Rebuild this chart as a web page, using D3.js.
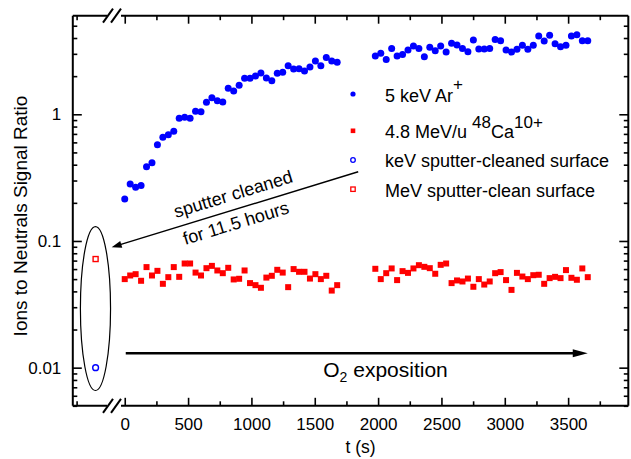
<!DOCTYPE html>
<html>
<head>
<meta charset="utf-8">
<script src="https://cdn.jsdelivr.net/npm/d3@7"></script>
<style>
  html, body { margin: 0; padding: 0; background: #fff; }
  svg { display: block; }
  text { font-family: "Liberation Sans", Arial, sans-serif; fill: #000; }
</style>
</head>
<body>
<svg id="chart" width="631" height="459"></svg>
<script>
// Measurement times (s) shared by both beams
const times = [
  0, 43, 86, 129, 172, 215, 258, 301, 344, 387, 430, 473, 516, 559, 602, 645, 688, 731, 774, 817,
  860, 903, 946, 989, 1032, 1075, 1118, 1161, 1204, 1247, 1290, 1333, 1376, 1419, 1462, 1505, 1548, 1591, 1634, 1677,
  1978, 2021, 2064, 2107, 2150, 2193, 2236, 2279, 2322, 2365, 2408, 2451, 2494, 2537, 2580, 2623, 2666, 2709, 2752, 2795,
  2838, 2881, 2924, 2967, 3010, 3053, 3096, 3139, 3182, 3225, 3268, 3311, 3354, 3397, 3440, 3483, 3526, 3569, 3612, 3655
];

// 5 keV Ar+ ions-to-neutrals ratio
const arRatio = [
  0.214, 0.282, 0.266, 0.274, 0.386, 0.415, 0.575, 0.659, 0.690, 0.734, 0.929, 0.947, 0.929, 1.057, 1.048, 1.244, 1.352, 1.280, 1.250, 1.603,
  1.527, 1.693, 1.923, 1.923, 2.005, 2.117, 1.933, 1.841, 2.105, 2.143, 2.417, 2.275, 2.29, 2.195, 2.36, 2.63, 2.42, 2.81, 2.63, 2.57,
  2.88, 3.03, 2.71, 3.31, 2.88, 2.97, 3.21, 3.46, 3.31, 2.85, 3.38, 3.17, 3.46, 3.10, 3.63, 3.52, 3.31, 3.12, 3.85, 3.27,
  3.27, 3.31, 3.90, 3.80, 3.21, 3.10, 3.26, 3.50, 3.26, 3.50, 4.14, 3.78, 4.20, 3.60, 3.41, 3.50, 4.14, 4.25, 3.80, 3.80
];

// 4.8 MeV/u 48Ca10+ ions-to-neutrals ratio
const caRatio = [
  0.0500, 0.0534, 0.0547, 0.0485, 0.0622, 0.0534, 0.0581, 0.0459, 0.0518, 0.0622, 0.0521, 0.0664, 0.0664, 0.0563, 0.0534, 0.0610, 0.0636, 0.0585, 0.0557, 0.0614,
  0.0497, 0.0503, 0.0585, 0.0465, 0.0448, 0.0427, 0.0514, 0.0531, 0.0592, 0.0563, 0.0432, 0.0600, 0.0571, 0.0571, 0.0505, 0.0547, 0.0500, 0.0531, 0.0406, 0.0448,
  0.0603, 0.0500, 0.0557, 0.0607, 0.0491, 0.0578, 0.0560, 0.0607, 0.0644, 0.0625, 0.0610, 0.0551, 0.0648, 0.0664, 0.0465, 0.0488, 0.0479, 0.0505, 0.0435, 0.0500,
  0.0453, 0.0479, 0.0557, 0.0568, 0.0491, 0.0411, 0.0560, 0.0524, 0.0500, 0.0537, 0.0541, 0.0459, 0.0509, 0.0521, 0.0509, 0.0589, 0.0512, 0.0494, 0.0607, 0.0518
];

// Freshly sputter-cleaned surfaces, shown before the O2 exposition starts
const cleanTime = -230;
const keVClean = 0.0100;
const MeVClean = 0.072;

// Axis ticks
const xMajorTicks = [0, 500, 1000, 1500, 2000, 2500, 3000, 3500];
const xMinorTicks = [-380, 250, 750, 1250, 1750, 2250, 2750, 3250, 3750];
const yMajorTicks = [0.01, 0.1, 1];
const yTickLabels = ["0.01", "0.1", "1"];
const yMinorTicks = [0.005, 0.006, 0.007, 0.008, 0.009,
  0.02, 0.03, 0.04, 0.05, 0.06, 0.07, 0.08, 0.09,
  0.2, 0.3, 0.4, 0.5, 0.6, 0.7, 0.8, 0.9, 2, 3, 4, 5];

const svg = d3.select("#chart");
const blue = "#0000ff", red = "#ff0000";

const x = d3.scaleLinear().domain([-410, 3975]).range([72.8, 628.3]);
const y = d3.scaleLog().domain([0.005, 6]).range([405.8, 15.7]);

const [x0, x1] = x.range();
const [yb, yt] = y.range();

// ---- ticks (all pointing inward) ----
function tickGroup(axis, tx, ty) {
  const g = svg.append("g").attr("transform", `translate(${tx},${ty})`).call(axis);
  g.select(".domain").remove();
  g.selectAll(".tick line").attr("stroke", "#000").attr("stroke-width", 1.6);
  g.selectAll("text").style("font-size", "17px").attr("fill", "#000");
  return g;
}

tickGroup(d3.axisBottom(x).tickValues(xMajorTicks).tickSize(-8).tickPadding(12).tickFormat(d3.format("d")), 0, yb);
tickGroup(d3.axisBottom(x).tickValues(xMinorTicks).tickSize(-4.5).tickFormat(""), 0, yb);
tickGroup(d3.axisTop(x).tickValues(xMajorTicks).tickSize(-8).tickFormat(""), 0, yt);
tickGroup(d3.axisTop(x).tickValues(xMinorTicks).tickSize(-4.5).tickFormat(""), 0, yt);

tickGroup(d3.axisLeft(y).tickValues(yMajorTicks).tickSize(-9).tickPadding(11.5)
  .tickFormat((d, i) => yTickLabels[i]), x0, 0);
tickGroup(d3.axisLeft(y).tickValues(yMinorTicks).tickSize(-4.5).tickFormat(""), x0, 0);
tickGroup(d3.axisRight(y).tickValues(yMajorTicks).tickSize(-9).tickFormat(""), x1, 0);
tickGroup(d3.axisRight(y).tickValues(yMinorTicks).tickSize(-4.5).tickFormat(""), x1, 0);

// ---- frame with axis break on top and bottom ----
const frame = svg.append("g").attr("stroke", "#000").attr("stroke-width", 2).attr("fill", "none");
const breakL = 107, breakR = 121;
frame.append("line").attr("x1", x0).attr("x2", x0).attr("y1", yt).attr("y2", yb);
frame.append("line").attr("x1", x1).attr("x2", x1).attr("y1", yt).attr("y2", yb);
[yt, yb].forEach(yy => {
  frame.append("line").attr("x1", x0).attr("x2", breakL).attr("y1", yy).attr("y2", yy);
  frame.append("line").attr("x1", breakR).attr("x2", x1).attr("y1", yy).attr("y2", yy);
  [108, 116].forEach(cx => {
    frame.append("line").attr("x1", cx - 5).attr("y1", yy + 7).attr("x2", cx + 5).attr("y2", yy - 7);
  });
});

// ---- data ----
const plot = svg.append("g");
plot.selectAll("circle.ar").data(times).join("circle")
  .attr("class", "ar")
  .attr("cx", d => x(d))
  .attr("cy", (d, i) => y(arRatio[i]))
  .attr("r", 3.5)
  .attr("fill", blue);

const sq = 6;
plot.selectAll("rect.ca").data(times).join("rect")
  .attr("class", "ca")
  .attr("x", d => x(d) - sq / 2)
  .attr("y", (d, i) => y(caRatio[i]) - sq / 2)
  .attr("width", sq).attr("height", sq)
  .attr("fill", red);

plot.append("circle")
  .attr("cx", x(cleanTime)).attr("cy", y(keVClean)).attr("r", 2.9)
  .attr("fill", "none").attr("stroke", blue).attr("stroke-width", 1.4);
plot.append("rect")
  .attr("x", x(cleanTime) - 2.5).attr("y", y(MeVClean) - 2.5)
  .attr("width", 5).attr("height", 5)
  .attr("fill", "none").attr("stroke", red).attr("stroke-width", 1.4);

// ---- annotations ----
const ann = svg.append("g");

// ellipse around the sputter-cleaned points
const ellT = [-350, -112], ellV = [0.0066, 0.13];
ann.append("ellipse")
  .attr("cx", (x(ellT[0]) + x(ellT[1])) / 2)
  .attr("cy", (y(ellV[0]) + y(ellV[1])) / 2)
  .attr("rx", (x(ellT[1]) - x(ellT[0])) / 2)
  .attr("ry", (y(ellV[0]) - y(ellV[1])) / 2)
  .attr("fill", "none").attr("stroke", "#000").attr("stroke-width", 1.2);

function arrow(p0, p1, width, headLen, headHalf) {
  const ax = x(p0[0]), ay = y(p0[1]), bx = x(p1[0]), by = y(p1[1]);
  const ang = Math.atan2(by - ay, bx - ax);
  const ux = Math.cos(ang), uy = Math.sin(ang);
  const baseX = bx - ux * headLen, baseY = by - uy * headLen;
  ann.append("line").attr("x1", ax).attr("y1", ay)
    .attr("x2", baseX + ux * 2).attr("y2", baseY + uy * 2)
    .attr("stroke", "#000").attr("stroke-width", width);
  ann.append("path")
    .attr("d", `M${bx},${by}L${baseX - uy * headHalf},${baseY + ux * headHalf}` +
               `L${baseX + uy * headHalf},${baseY - ux * headHalf}Z`)
    .attr("fill", "#000");
  return ang * 180 / Math.PI;
}

// sputter cleaning arrow
const sputFrom = [1843, 0.352], sputTo = [-103, 0.0892];
let ang = arrow(sputFrom, sputTo, 1.4, 10, 3.5);
const rot = ang - 180;
ann.append("text")
  .attr("transform", `translate(${x(870)},${y(0.211)}) rotate(${rot})`)
  .attr("text-anchor", "middle").style("font-size", "18px")
  .text("sputter cleaned");
ann.append("text")
  .attr("transform", `translate(${x(891)},${y(0.1244)}) rotate(${rot})`)
  .attr("text-anchor", "middle").style("font-size", "18px")
  .text("for 11.5 hours");

// O2 exposition arrow
arrow([8, 0.0130], [3655, 0.0130], 2.6, 15, 4);
const o2 = ann.append("text")
  .attr("x", x(1567)).attr("y", y(0.00845))
  .style("font-size", "21px");
o2.append("tspan").text("O");
o2.append("tspan").attr("dy", 5).style("font-size", "14px").text("2");
o2.append("tspan").attr("dy", -5).text(" exposition");

// ---- legend ----
const leg = svg.append("g").style("font-size", "18px");
const legSymX = 353, legTextX = 385;
leg.append("circle").attr("cx", legSymX).attr("cy", 94).attr("r", 2.6).attr("fill", blue);
leg.append("rect").attr("x", legSymX - 2.3).attr("y", 128.5).attr("width", 4.6).attr("height", 4.6).attr("fill", red);
leg.append("circle").attr("cx", legSymX).attr("cy", 160).attr("r", 2.3)
  .attr("fill", "none").attr("stroke", blue).attr("stroke-width", 1.3);
leg.append("rect").attr("x", legSymX - 2.2).attr("y", 187).attr("width", 4.4).attr("height", 4.4)
  .attr("fill", "none").attr("stroke", red).attr("stroke-width", 1.3);

const t1 = leg.append("text").attr("x", legTextX).attr("y", 101.7);
t1.append("tspan").text("5 keV Ar");
t1.append("tspan").attr("dy", -12).style("font-size", "17px").text("+");

const t2 = leg.append("text").attr("x", legTextX).attr("y", 137.5);
t2.append("tspan").text("4.8 MeV/u ");
t2.append("tspan").attr("dy", -10).style("font-size", "17px").text("48");
t2.append("tspan").attr("dy", 10).text("Ca");
t2.append("tspan").attr("dy", -10).style("font-size", "17px").text("10+");

leg.append("text").attr("x", legTextX).attr("y", 167).text("keV sputter-cleaned surface");
leg.append("text").attr("x", legTextX).attr("y", 196.7).text("MeV sputter-clean surface");

// ---- axis titles ----
svg.append("text")
  .attr("x", (x(0) + x1) / 2 - 16).attr("y", 453)
  .attr("text-anchor", "middle").style("font-size", "17.5px")
  .text("t (s)");
svg.append("text")
  .attr("transform", "translate(27,216) rotate(-90)")
  .attr("text-anchor", "middle").style("font-size", "19px")
  .text("Ions to Neutrals Signal Ratio");
</script>
</body>
</html>
